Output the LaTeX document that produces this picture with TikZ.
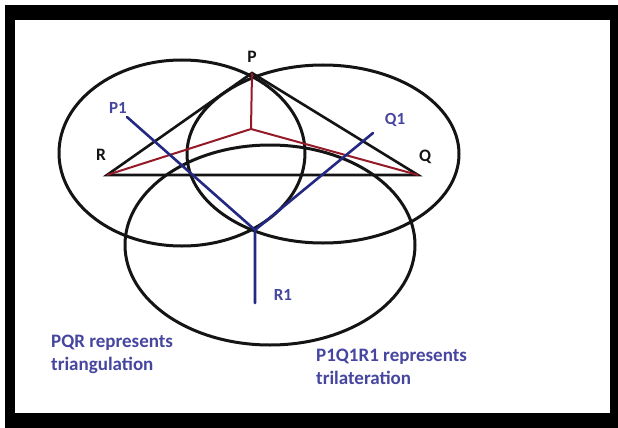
\documentclass[tikz,border=0pt]{standalone}
\usepackage{fontspec}
\setmainfont{Carlito}
\usetikzlibrary{positioning}
\definecolor{ink}{RGB}{20,20,20}
\definecolor{wine}{RGB}{150,25,40}
\definecolor{navy}{RGB}{35,40,130}
\definecolor{slate}{RGB}{70,70,160}
\tikzset{
  ring/.style={draw=ink,line width=3pt},
  side/.style={draw=ink,line width=2.6pt},
  bisect/.style={draw=wine,line width=2pt},
  reach/.style={draw=navy,line width=2.6pt,line cap=round},
  vtx/.style={font=\bfseries\fontsize{17.5}{20}\selectfont,text=ink,inner sep=0pt},
  tag/.style={font=\bfseries\fontsize{17}{19}\selectfont,text=slate,inner sep=0pt},
  note/.style={font=\bfseries\fontsize{19}{22.5}\selectfont,text=slate,align=left,inner sep=0pt},
}

\begin{document}
\begin{tikzpicture}[x=1pt,y=-1pt]
  \useasboundingbox (0,0) rectangle (618,428);
  \fill[black] (5,5) rectangle (618,428);
  \fill[white] (15,20) rectangle (610,413);
  % circles
  \draw[ring] (182,153) ellipse [x radius=123pt,y radius=93pt];
  \draw[ring] (323,154) ellipse [x radius=136pt,y radius=89pt];
  \draw[ring] (270,245) ellipse [x radius=145pt,y radius=100pt];
  % triangle PQR
  \coordinate (P) at (252,73);
  \coordinate (Q) at (418,175);
  \coordinate (R) at (107,175);
  \coordinate (M) at (251,129);
  \draw[side] (R) -- (P) -- (Q) -- cycle;
  \draw[bisect] (P) -- (M) (R) -- (M) -- (Q);
  % ranges P1 Q1 R1
  \coordinate (X) at (255,230);
  \coordinate (P1) at (127,117);
  \coordinate (Q1) at (373,133);
  \coordinate (R1) at (255,303);
  \draw[reach] (P1) -- (X) -- (Q1) (X) -- (R1);
  % labels
  \node[vtx] (Plab) at (252,57) {P};
  \node[vtx] (Qlab) at (425,157) {Q};
  \node[vtx] (Rlab) at (101,155) {R};
  \node[tag] (P1lab) at (118,108) {P1};
  \node[tag] (Q1lab) at (395,120) {Q1};
  \node[tag] (R1lab) at (283,295) {R1};
  \node[note,anchor=north west] (tri) at (51,335) {PQR represents\\triangulation};
  \node[note,anchor=north west] (trl) at (316,349) {P1Q1R1 represents\\trilateration};
\end{tikzpicture}
\end{document}
